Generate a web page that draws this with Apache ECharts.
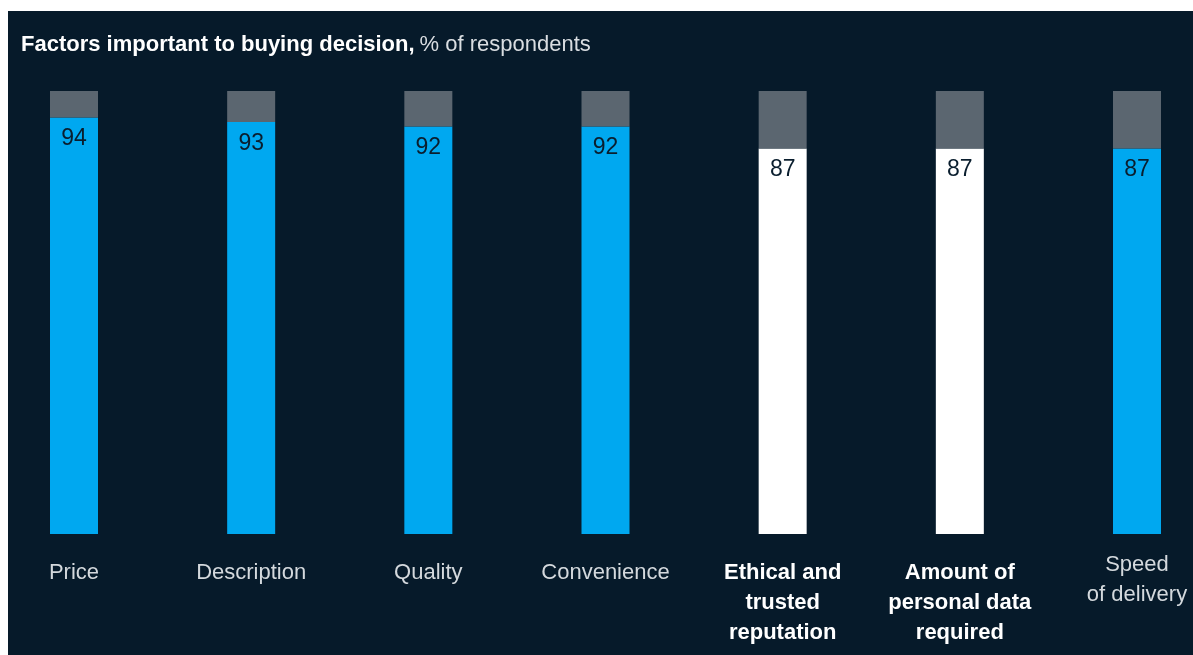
<!DOCTYPE html>
<html>
<head>
<meta charset="utf-8">
<script src="https://cdn.jsdelivr.net/npm/echarts@6/dist/echarts.min.js"></script>
<style>
  html, body { margin: 0; padding: 0; background: #ffffff; }
  #chart { position: absolute; left: 8px; top: 11px; width: 1185px; height: 644px; background: #061a2a; }
</style>
</head>
<body>
<div id="chart"></div>
<script>
// factors and share of respondents (%)
var categories = ['Price', 'Description', 'Quality', 'Convenience', 'Ethical and\ntrusted\nreputation', 'Amount of\npersonal data\nrequired', 'Speed\nof delivery']
var values = [94, 93, 92, 92, 87, 87, 87]
var highlighted = [false, false, false, false, true, true, false]
var total = 100

var chart = echarts.init(document.getElementById('chart'))

var font = '"Liberation Sans", Arial, sans-serif'

chart.setOption({
  animation: false,
  title: {
    left: 8,
    top: 18,
    text: '{b|Factors important to buying decision,} {r|% of respondents}',
    textStyle: {
      rich: {
        b: { fontFamily: font, fontSize: 22, fontWeight: 'bold', color: '#ffffff' },
        r: { fontFamily: font, fontSize: 22, fontWeight: 'normal', color: '#d9dde1' }
      }
    }
  },
  grid: { left: 66, right: 56, top: 80, bottom: 121 },
  xAxis: {
    type: 'category',
    boundaryGap: false,
    data: categories.map(function (c, i) {
      var isSpeed = i === categories.length - 1
      return {
        value: c,
        textStyle: {
          fontFamily: font,
          fontSize: 22,
          lineHeight: 30,
          fontWeight: highlighted[i] ? 'bold' : 'normal',
          color: highlighted[i] ? '#ffffff' : '#d4d9dd',
          padding: [isSpeed ? 0 : 8, 0, 0, 0]
        }
      }
    }),
    axisLine: { show: false },
    axisTick: { show: false },
    axisLabel: { margin: 16, interval: 0 }
  },
  yAxis: {
    type: 'value',
    min: 0,
    max: 100,
    show: false,
    splitLine: { show: false }
  },
  series: [
    {
      type: 'bar',
      stack: 'all',
      barWidth: 48,
      clip: false,
      data: values.map(function (v, i) {
        return { value: v, itemStyle: { color: highlighted[i] ? '#ffffff' : '#00a8f0' } }
      }),
      label: {
        show: true,
        position: 'insideTop',
        distance: 10,
        fontFamily: font,
        fontSize: 23,
        color: '#0a1e2e'
      }
    },
    {
      type: 'bar',
      stack: 'all',
      barWidth: 48,
      clip: false,
      data: values.map(function (v) { return total - v }),
      itemStyle: { color: '#5b6670' }
    }
  ]
})
</script>
</body>
</html>
